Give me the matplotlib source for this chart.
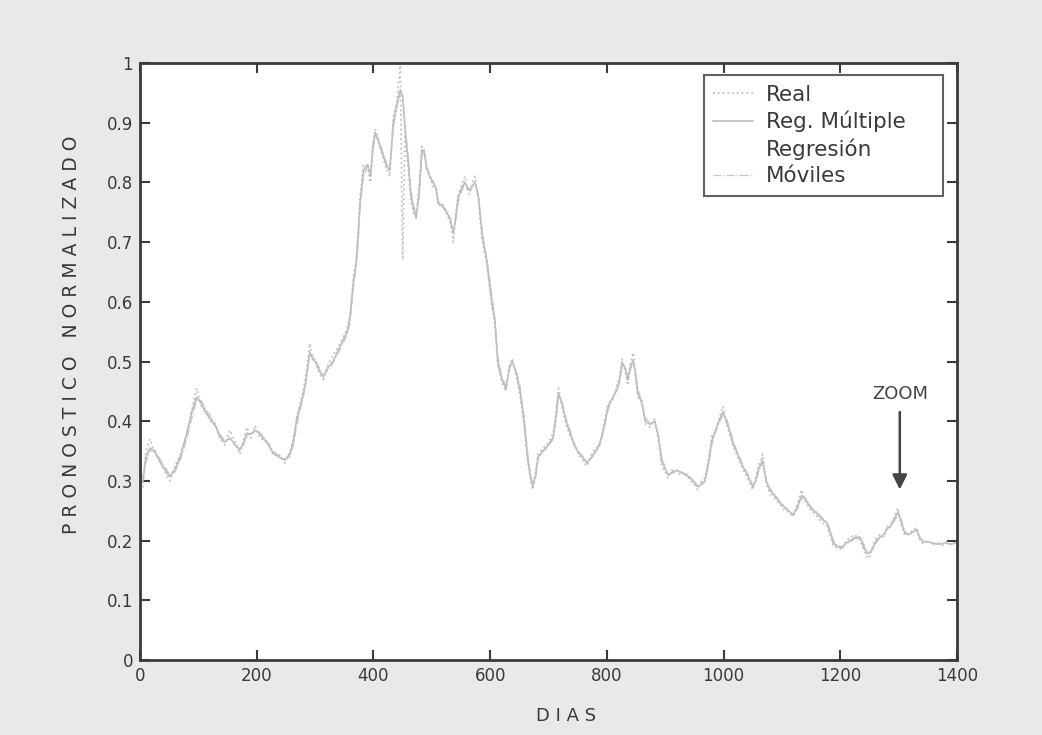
import matplotlib
matplotlib.use("Agg")
import matplotlib.pyplot as plt
from matplotlib.lines import Line2D

DAYS = [0, 2, 5, 10, 17, 25, 35, 45, 51, 60, 69, 80, 90, 97, 105, 112, 120, 130, 137, 145,
        154, 163, 171, 178, 183, 190, 197, 204, 211, 220, 228, 238, 248, 257, 263, 269, 276, 283, 291, 296,
        300, 307, 314, 322, 331, 340, 348, 355, 360, 366, 370, 374, 377, 383, 390, 395, 399, 403, 408, 415,
        423, 428, 434, 440, 446, 450, 454, 460, 464, 468, 473, 478, 483, 487, 491, 496, 502, 507, 511, 518,
        526, 531, 537, 541, 545, 551, 557, 561, 565, 570, 574, 580, 586, 590, 594, 599, 603, 608, 613, 620,
        627, 633, 638, 645, 651, 658, 664, 668, 673, 678, 682, 690, 697, 703, 708, 713, 717, 723, 730, 737,
        744, 751, 758, 766, 774, 781, 788, 795, 802, 810, 817, 822, 826, 831, 836, 840, 845, 849, 853, 860,
        866, 874, 882, 889, 894, 900, 905, 913, 920, 928, 935, 942, 949, 956, 962, 968, 974, 980, 988, 994,
        999, 1005, 1010, 1016, 1024, 1033, 1041, 1050, 1055, 1060, 1067, 1073, 1079, 1088, 1097, 1105, 1112, 1119, 1126, 1134,
        1140, 1146, 1153, 1161, 1169, 1177, 1184, 1188, 1195, 1203, 1210, 1217, 1225, 1234, 1240, 1246, 1251, 1257, 1262, 1268,
        1275, 1280, 1285, 1292, 1299, 1304, 1311, 1318, 1325, 1331, 1336, 1342, 1350, 1359, 1368, 1375, 1382, 1390, 1397]

REG_MULTIPLE = [0.15, 0.30, 0.30, 0.34, 0.355, 0.35, 0.33, 0.315, 0.307, 0.32, 0.34, 0.38, 0.42, 0.44, 0.43, 0.415, 0.405, 0.39, 0.374, 0.365,
                0.372, 0.36, 0.352, 0.365, 0.38, 0.378, 0.385, 0.38, 0.372, 0.36, 0.347, 0.34, 0.335, 0.345, 0.37, 0.405, 0.43, 0.46, 0.515, 0.505,
                0.50, 0.485, 0.474, 0.49, 0.50, 0.52, 0.536, 0.55, 0.575, 0.636, 0.66, 0.715, 0.765, 0.82, 0.83, 0.81, 0.86, 0.883, 0.87, 0.85,
                0.826, 0.82, 0.90, 0.93, 0.955, 0.945, 0.89, 0.83, 0.78, 0.76, 0.74, 0.78, 0.855, 0.85, 0.826, 0.81, 0.80, 0.79, 0.765, 0.76,
                0.749, 0.74, 0.715, 0.74, 0.775, 0.79, 0.80, 0.79, 0.787, 0.795, 0.80, 0.775, 0.715, 0.69, 0.67, 0.63, 0.60, 0.57, 0.50, 0.47,
                0.455, 0.49, 0.50, 0.48, 0.452, 0.40, 0.34, 0.313, 0.29, 0.31, 0.34, 0.35, 0.357, 0.365, 0.373, 0.41, 0.447, 0.43, 0.40, 0.38,
                0.36, 0.348, 0.34, 0.33, 0.34, 0.35, 0.363, 0.39, 0.424, 0.44, 0.452, 0.47, 0.497, 0.49, 0.469, 0.49, 0.502, 0.48, 0.447, 0.43,
                0.40, 0.395, 0.40, 0.37, 0.333, 0.32, 0.31, 0.315, 0.318, 0.314, 0.31, 0.306, 0.298, 0.29, 0.295, 0.30, 0.33, 0.368, 0.39, 0.405,
                0.415, 0.40, 0.385, 0.363, 0.345, 0.324, 0.31, 0.29, 0.30, 0.32, 0.335, 0.30, 0.285, 0.275, 0.263, 0.255, 0.25, 0.243, 0.255, 0.276,
                0.27, 0.26, 0.251, 0.245, 0.236, 0.229, 0.21, 0.196, 0.19, 0.188, 0.196, 0.20, 0.205, 0.206, 0.19, 0.178, 0.18, 0.19, 0.20, 0.206,
                0.21, 0.22, 0.223, 0.235, 0.248, 0.232, 0.212, 0.21, 0.215, 0.218, 0.205, 0.198, 0.198, 0.196, 0.194, 0.195, 0.196, 0.194, 0.196]

REAL = [0.16, 0.31, 0.29, 0.35, 0.37, 0.345, 0.335, 0.31, 0.30, 0.325, 0.345, 0.375, 0.425, 0.455, 0.425, 0.42, 0.40, 0.395, 0.37, 0.36,
        0.385, 0.365, 0.345, 0.37, 0.39, 0.372, 0.393, 0.375, 0.368, 0.365, 0.342, 0.345, 0.33, 0.35, 0.365, 0.41, 0.435, 0.47, 0.53, 0.50,
        0.505, 0.48, 0.47, 0.495, 0.51, 0.525, 0.54, 0.555, 0.58, 0.645, 0.665, 0.72, 0.775, 0.83, 0.825, 0.80, 0.865, 0.89, 0.875, 0.845,
        0.82, 0.81, 0.91, 0.935, 1.0, 0.67, 0.88, 0.82, 0.77, 0.75, 0.745, 0.79, 0.86, 0.855, 0.82, 0.815, 0.79, 0.795, 0.76, 0.765,
        0.745, 0.735, 0.70, 0.745, 0.78, 0.795, 0.81, 0.785, 0.78, 0.80, 0.81, 0.77, 0.705, 0.685, 0.665, 0.625, 0.59, 0.565, 0.495, 0.465,
        0.45, 0.495, 0.505, 0.475, 0.445, 0.395, 0.335, 0.31, 0.285, 0.315, 0.345, 0.355, 0.36, 0.37, 0.38, 0.415, 0.455, 0.425, 0.395, 0.375,
        0.365, 0.345, 0.335, 0.325, 0.345, 0.355, 0.36, 0.395, 0.43, 0.435, 0.46, 0.475, 0.505, 0.485, 0.46, 0.495, 0.515, 0.475, 0.44, 0.435,
        0.395, 0.39, 0.405, 0.365, 0.325, 0.315, 0.305, 0.32, 0.315, 0.31, 0.315, 0.30, 0.295, 0.285, 0.30, 0.305, 0.335, 0.375, 0.385, 0.41,
        0.425, 0.395, 0.38, 0.36, 0.34, 0.32, 0.305, 0.285, 0.305, 0.325, 0.345, 0.295, 0.28, 0.27, 0.26, 0.25, 0.248, 0.24, 0.26, 0.285,
        0.265, 0.255, 0.248, 0.24, 0.23, 0.225, 0.205, 0.19, 0.188, 0.185, 0.20, 0.205, 0.21, 0.20, 0.185, 0.17, 0.175, 0.195, 0.205, 0.21,
        0.205, 0.225, 0.22, 0.24, 0.255, 0.228, 0.208, 0.213, 0.218, 0.222, 0.20, 0.195, 0.20, 0.193, 0.196, 0.192, 0.198, 0.192, 0.197]

REG_MOVILES = [0.15, 0.29, 0.31, 0.33, 0.35, 0.352, 0.335, 0.32, 0.31, 0.315, 0.335, 0.37, 0.41, 0.435, 0.435, 0.42, 0.41, 0.392, 0.378, 0.368,
               0.37, 0.362, 0.355, 0.36, 0.375, 0.38, 0.383, 0.382, 0.375, 0.362, 0.35, 0.342, 0.337, 0.34, 0.36, 0.395, 0.425, 0.455, 0.51, 0.51,
               0.502, 0.49, 0.478, 0.485, 0.498, 0.515, 0.53, 0.545, 0.565, 0.625, 0.655, 0.70, 0.755, 0.81, 0.828, 0.815, 0.85, 0.878, 0.872, 0.855,
               0.83, 0.825, 0.89, 0.925, 0.95, 0.948, 0.90, 0.84, 0.79, 0.765, 0.745, 0.77, 0.845, 0.852, 0.83, 0.812, 0.803, 0.792, 0.77, 0.762,
               0.752, 0.742, 0.72, 0.735, 0.765, 0.785, 0.797, 0.792, 0.79, 0.793, 0.80, 0.78, 0.725, 0.695, 0.675, 0.64, 0.61, 0.575, 0.51, 0.475,
               0.46, 0.485, 0.498, 0.485, 0.46, 0.41, 0.35, 0.32, 0.295, 0.305, 0.335, 0.348, 0.355, 0.362, 0.37, 0.40, 0.44, 0.435, 0.405, 0.385,
               0.362, 0.35, 0.342, 0.333, 0.338, 0.348, 0.36, 0.385, 0.418, 0.44, 0.45, 0.465, 0.49, 0.492, 0.475, 0.485, 0.498, 0.485, 0.455, 0.432,
               0.405, 0.397, 0.398, 0.375, 0.34, 0.322, 0.312, 0.313, 0.317, 0.315, 0.31, 0.307, 0.30, 0.292, 0.293, 0.298, 0.325, 0.36, 0.388, 0.40,
               0.41, 0.405, 0.39, 0.368, 0.348, 0.327, 0.312, 0.293, 0.298, 0.315, 0.33, 0.305, 0.288, 0.277, 0.265, 0.257, 0.25, 0.245, 0.252, 0.27,
               0.272, 0.262, 0.253, 0.247, 0.238, 0.232, 0.215, 0.20, 0.192, 0.19, 0.194, 0.198, 0.203, 0.205, 0.195, 0.182, 0.18, 0.187, 0.197, 0.205,
               0.212, 0.218, 0.224, 0.232, 0.242, 0.237, 0.215, 0.21, 0.214, 0.216, 0.208, 0.20, 0.197, 0.197, 0.195, 0.195, 0.195, 0.195, 0.196]

X_TICKS = [0, 200, 400, 600, 800, 1000, 1200, 1400]
Y_TICKS = [0, 0.1, 0.2, 0.3, 0.4, 0.5, 0.6, 0.7, 0.8, 0.9, 1]
Y_TICK_LABELS = ["0", "0.1", "0.2", "0.3", "0.4", "0.5", "0.6", "0.7", "0.8", "0.9", "1"]
LEGEND_LABELS = ["Real", "Reg. Múltiple", "Regresión", "Móviles"]

LINE_GRAY = "#b9b9b9"
DARK = "#3a3a3a"

plt.rcParams['font.family'] = ['DejaVu Sans']

fig = plt.figure(figsize=(10.42, 7.35), dpi=100, facecolor="#e9e9e9")
ax = fig.add_axes([0.1344, 0.102, 0.784, 0.8123])
ax.set_facecolor("white")

ax.plot(DAYS, REAL, linestyle=":", color="#c2c2c2", linewidth=1.3)
ax.plot(DAYS, REG_MULTIPLE, linestyle="-", color=LINE_GRAY, linewidth=1.1)
ax.plot(DAYS, REG_MOVILES, linestyle="-.", color="#c6c6c6", linewidth=0.9)

ax.set_xlim(0, 1400)
ax.set_ylim(0, 1)
ax.set_xticks(X_TICKS)
ax.set_xticklabels([str(t) for t in X_TICKS])
ax.set_yticks(Y_TICKS)
ax.set_yticklabels(Y_TICK_LABELS)
ax.tick_params(direction="in", length=7, width=1.5, color=DARK, labelcolor=DARK,
               labelsize=12, top=True, right=True, pad=5)
for s in ax.spines.values():
    s.set_color(DARK)
    s.set_linewidth(2.0)

ax.set_xlabel("D I A S", fontsize=13, color=DARK)
ax.xaxis.set_label_coords(0.522, -0.078)
ax.set_ylabel("P R O N O S T I C O   N O R M A L I Z A D O", fontsize=13.5, color=DARK)
ax.yaxis.set_label_coords(-0.072, 0.545)

# ZOOM annotation
ax.annotate("", xy=(1302, 0.281), xytext=(1302, 0.42),
            arrowprops=dict(arrowstyle="-|>", color="#444444", lw=1.8, mutation_scale=22))
ax.text(1302, 0.445, "ZOOM", ha="center", va="center", fontsize=13, color="#444444")

handles = [Line2D([], [], linestyle=":", color="#c2c2c2", linewidth=1.3),
           Line2D([], [], linestyle="-", color=LINE_GRAY, linewidth=1.1),
           Line2D([], [], linestyle="none"),
           Line2D([], [], linestyle="-.", color="#c6c6c6", linewidth=0.9)]
shown = [LEGEND_LABELS[0], LEGEND_LABELS[1] + "    ", LEGEND_LABELS[2], LEGEND_LABELS[3]]
leg = ax.legend(handles, shown, loc="upper right", bbox_to_anchor=(0.983, 0.98),
                borderaxespad=0.0, fontsize=15.5, frameon=True, fancybox=False,
                edgecolor=DARK, handlelength=1.86, handletextpad=0.6, labelspacing=0.29,
                borderpad=0.45, labelcolor=DARK)
leg.get_frame().set_linewidth(1.5)

fig.savefig("out.png", dpi=100, facecolor=fig.get_facecolor())
